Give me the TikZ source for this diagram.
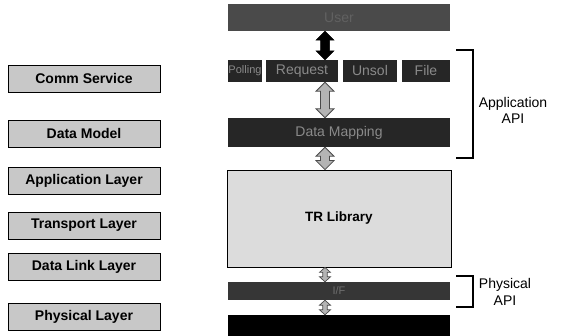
\documentclass[tikz,border=0pt]{standalone}
\usepackage{fontspec}
\setmainfont{Liberation Sans}
\usetikzlibrary{calc}
\definecolor{lgray}{HTML}{C8C8C8}
\definecolor{trgray}{HTML}{DCDCDC}
\definecolor{usergray}{HTML}{4A4A4A}
\definecolor{dkbox}{HTML}{262626}
\definecolor{ifgray}{HTML}{363636}
\definecolor{dktext}{HTML}{8A8A8A}
\definecolor{arrgray}{HTML}{B4B4B4}
\definecolor{arredge}{HTML}{4A4A4A}
\tikzset{
  layerbox/.style={draw=black, line width=0.8pt, fill=lgray, minimum width=152pt,
    minimum height=27pt, inner sep=0pt, font=\bfseries\fontsize{14}{14}\selectfont},
  darkbox/.style={fill=dkbox, draw=none, inner sep=0pt, text=dktext,
    font=\fontsize{14}{14}\selectfont},
  apitext/.style={align=center, font=\fontsize{14}{16}\selectfont, inner sep=0pt},
  bracketline/.style={line width=2pt, line cap=rect},
  blkarrow/.style n args={3}{to path={let \p1=(\tikztostart), \p2=(\tikztotarget) in
    (\x1,\y1) -- ({\x1+#2},{\y1-#3}) -- ({\x1+#1},{\y1-#3}) -- ({\x1+#1},{\y2+#3})
    -- ({\x1+#2},{\y2+#3}) -- (\x1,\y2) -- ({\x1-#2},{\y2+#3}) -- ({\x1-#1},{\y2+#3})
    -- ({\x1-#1},{\y1-#3}) -- ({\x1-#2},{\y1-#3}) -- cycle}},
  bigblack/.style={blkarrow={4.5pt}{9pt}{9pt}, fill=black, draw=black, line width=0.5pt},
  biggray/.style={blkarrow={4.5pt}{9pt}{9pt}, fill=arrgray, draw=arredge, line width=0.8pt},
  smallgray/.style={blkarrow={2.2pt}{5.5pt}{5pt}, fill=arrgray, draw=arredge, line width=0.7pt}
}
\begin{document}
\begin{tikzpicture}[x=1pt,y=-1pt]
\useasboundingbox (0,0) rectangle (563,336);
% left column
\node[layerbox] (comm) at (84,79) {Comm Service};
\node[layerbox] (dmodel) at (84,134) {Data Model};
\node[layerbox] (applayer) at (84,180.5) {Application Layer};
\node[layerbox] (translayer) at (84,225.5) {Transport Layer};
\node[layerbox] (dllayer) at (84,267) {Data Link Layer};
\node[layerbox] (phylayer) at (84,316.5) {Physical Layer};
% central stack
\node[darkbox, fill=usergray, text=dktext!70!black, minimum width=222pt, minimum height=27pt] (user) at (339,17.5) {User};
\node[darkbox, minimum width=34pt, minimum height=22pt, font=\fontsize{11}{11}\selectfont] (polling) at (245,71) {Polling};
\node[darkbox, minimum width=72pt, minimum height=22pt] (request) at (302,71) {Request};
\node[darkbox, minimum width=54pt, minimum height=22pt] (unsol) at (370,71) {Unsol};
\node[darkbox, minimum width=48pt, minimum height=22pt] (file) at (426,71) {File};
\node[darkbox, minimum width=222pt, minimum height=29pt] (dmap) at (339,132.5) {Data Mapping};
\node[draw=black, line width=0.8pt, fill=trgray, minimum width=224pt, minimum height=97pt,
  inner sep=0pt, font=\bfseries\fontsize{13.5}{14}\selectfont] (trlib) at (339,218.5) {TR Library};
\node[darkbox, fill=ifgray, text=dktext!80!black, minimum width=222pt, minimum height=18pt,
  font=\fontsize{11}{11}\selectfont] (iface) at (339,291) {I/F};
\node[fill=black, inner sep=0pt, minimum width=222pt, minimum height=21pt] (phybar) at (339,325.5) {};
% arrows
\coordinate (axis) at (325,0);
\draw[bigblack] (axis |- user.south) to (axis |- request.north);
\draw[biggray] (axis |- request.south) to (axis |- dmap.north);
\draw[biggray] (axis |- dmap.south) to (axis |- trlib.north);
\draw[smallgray] (axis |- trlib.south) to (axis |- iface.north);
\draw[smallgray] (axis |- iface.south) to (axis |- phybar.north);
% brackets
\coordinate (ab1) at (457,50);
\coordinate (ab2) at (473,50);
\coordinate (ab3) at (473,158);
\coordinate (ab4) at (457,158);
\draw[bracketline] (ab1) -- (ab2) -- (ab3) -- (ab4);
\node[apitext] (appapi) at (513,110) {Application\\API};
\coordinate (pb1) at (457,276);
\coordinate (pb2) at (473,276);
\coordinate (pb3) at (473,307);
\coordinate (pb4) at (457,307);
\draw[bracketline] (pb1) -- (pb2) -- (pb3) -- (pb4);
\node[apitext, font=\fontsize{14}{17}\selectfont] (phyapi) at (505,291.5) {Physical\\API};
\end{tikzpicture}
\end{document}
